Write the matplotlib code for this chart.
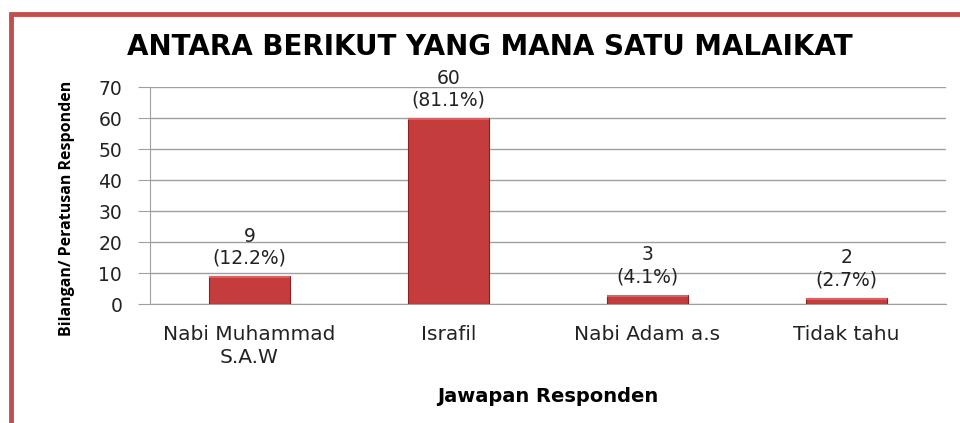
import numpy as np
import matplotlib.pyplot as plt
from matplotlib.patches import Rectangle

categories = ['Nabi Muhammad\nS.A.W', 'Israfil', 'Nabi Adam a.s', 'Tidak tahu']
counts = [9, 60, 3, 2]
percents = ['12.2%', '81.1%', '4.1%', '2.7%']
yticks = [0, 10, 20, 30, 40, 50, 60, 70]

fig = plt.figure(figsize=(9.6, 4.23), dpi=100)
# chart frame (only top and left visible in the crop)
fig.patches.append(Rectangle((11 / 960, -0.1), 1.2, 1 - 14.5 / 423 + 0.1,
                             transform=fig.transFigure, fill=False,
                             edgecolor='#C0504D', linewidth=3.5))

ax = fig.add_axes([150 / 960, 1 - 304 / 423, 796 / 960, 217 / 423])
x = np.arange(len(categories))
bars = ax.bar(x, counts, width=0.41, color='#C43C3C', edgecolor='#8E2222',
              linewidth=0.8, zorder=3)
# lighter top bevel
ax.bar(x, [0.7] * len(counts), bottom=[c - 0.7 for c in counts],
       width=0.41, color='#E06060', linewidth=0, zorder=4)

for xi, c, p in zip(x, counts, percents):
    ax.annotate(f'{c}\n({p})', (xi, c), xytext=(0, 6), textcoords='offset points',
                ha='center', va='bottom', fontsize=13.5, color='#222222',
                linespacing=1.2)

ax.set_xlim(-0.5, 3.5)
ax.set_ylim(0, 70)
ax.set_yticks(yticks)
ax.set_xticks(x)
ax.set_xticklabels(categories, fontsize=14.5, color='#222222', linespacing=1.3)
ax.tick_params(axis='x', length=0, pad=15)
ax.tick_params(axis='y', length=9, color='#A0A0A0', labelsize=13.5,
               labelcolor='#222222', pad=11)
ax.grid(axis='y', color='#A0A0A0', linewidth=1, zorder=0)
for s in ['top', 'right']:
    ax.spines[s].set_visible(False)
for s in ['left', 'bottom']:
    ax.spines[s].set_color('#A0A0A0')

fig.text(0.51, 1 - 47 / 423, 'ANTARA BERIKUT YANG MANA SATU MALAIKAT',
         ha='center', va='center', fontsize=20, fontweight='bold')
fig.text(548 / 960, 1 - 396 / 423, 'Jawapan Responden', ha='center', va='center',
         fontsize=14, fontweight='bold')
fig.text(67 / 960, 1 - 208 / 423, 'Bilangan/ Peratusan Responden', ha='center',
         va='center', rotation=90, fontsize=11.5, fontweight='bold',
         family=['Open Sans', 'DejaVu Sans'])

plt.savefig('out.png', dpi=100)
